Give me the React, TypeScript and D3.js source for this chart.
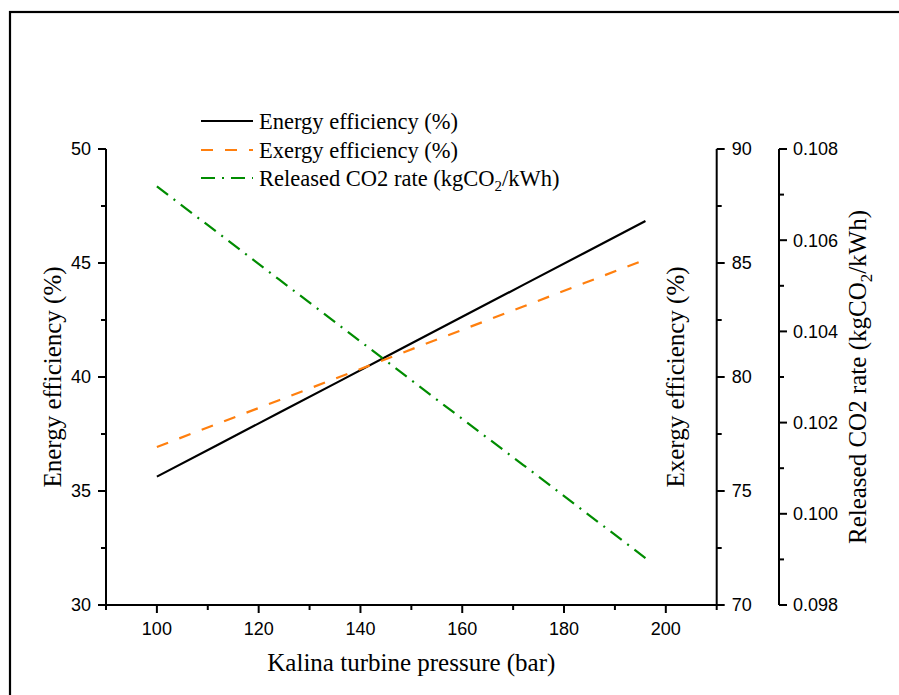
import React from "react";
import * as d3 from "d3";

const pressure = [100, 112, 124, 136, 148, 160, 172, 184, 196];
const energyEff = [35.63, 37.03, 38.43, 39.83, 41.24, 42.64, 44.04, 45.44, 46.84];
const exergyEff = [76.93, 77.96, 78.98, 80.01, 81.04, 82.07, 83.09, 84.12, 85.15];
const co2Rate = [0.10718, 0.10616, 0.10514, 0.10412, 0.1031, 0.10208, 0.10107, 0.10005, 0.09903];

const xMajor = [100, 120, 140, 160, 180, 200];
const xMinor = [90, 110, 130, 150, 170, 190, 210];
const y1Major = [30, 35, 40, 45, 50];
const y1Minor = [32.5, 37.5, 42.5, 47.5];
const y2Major = [70, 75, 80, 85, 90];
const y2Minor = [72.5, 77.5, 82.5, 87.5];
const y3Major = [0.098, 0.1, 0.102, 0.104, 0.106, 0.108];
const y3Minor = [0.099, 0.101, 0.103, 0.105, 0.107];

const legendLabels = ["Energy efficiency (%)", "Exergy efficiency (%)", "Released CO2 rate (kgCO"];

const W = 899;
const H = 695;
const L = 106;
const R = 716.7;
const T = 149;
const B = 605;
const AX3 = 779;

const SANS = "'Liberation Sans', Arial, sans-serif";
const SERIF = "'Liberation Serif', 'Times New Roman', serif";

export default function App() {
  const x = d3.scaleLinear().domain([90, 210]).range([L, R]);
  const y1 = d3.scaleLinear().domain([30, 50]).range([B, T]);
  const y2 = d3.scaleLinear().domain([70, 90]).range([B, T]);
  const y3 = d3.scaleLinear().domain([0.098, 0.108]).range([B, T]);

  const idx = pressure.map((_, i) => i);
  const lineE = d3.line<number>().x((i) => x(pressure[i])).y((i) => y1(energyEff[i]));
  const lineX = d3.line<number>().x((i) => x(pressure[i])).y((i) => y2(exergyEff[i]));
  const lineC = d3.line<number>().x((i) => x(pressure[i])).y((i) => y3(co2Rate[i]));

  const styles = [
    { stroke: "#000000", dash: undefined as string | undefined },
    { stroke: "#ff7f0e", dash: "12,12" },
    { stroke: "#008c00", dash: "14,7,2,7" },
  ];

  const sw = 2;
  const lw = 2.2;

  return (
    <svg
      width={W}
      height={H}
      style={{ position: "absolute", left: 0, top: 0, background: "#fff" }}
    >
      <rect x={0} y={0} width={W} height={H} fill="#fff" />
      <rect x={10} y={12} width={W + 20} height={H + 20} fill="none" stroke="#000" strokeWidth={2.2} />

      {/* data lines */}
      <path d={lineE(idx) || ""} fill="none" stroke={styles[0].stroke} strokeWidth={lw} />
      <path d={lineX(idx) || ""} fill="none" stroke={styles[1].stroke} strokeWidth={lw} strokeDasharray={styles[1].dash} />
      <path d={lineC(idx) || ""} fill="none" stroke={styles[2].stroke} strokeWidth={lw} strokeDasharray={styles[2].dash} />

      {/* x axis */}
      <line x1={L} x2={R} y1={B} y2={B} stroke="#000" strokeWidth={sw} />
      {xMajor.map((v) => (
        <g key={"xm" + v}>
          <line x1={x(v)} x2={x(v)} y1={B} y2={B + 8} stroke="#000" strokeWidth={sw} />
          <text x={x(v)} y={635} textAnchor="middle" fontFamily={SANS} fontSize={18}>
            {v}
          </text>
        </g>
      ))}
      {xMinor.map((v) => (
        <line key={"xn" + v} x1={x(v)} x2={x(v)} y1={B} y2={B + 5} stroke="#000" strokeWidth={sw} />
      ))}
      <text x={(L + R) / 2} y={671} textAnchor="middle" fontFamily={SERIF} fontSize={25}>
        Kalina turbine pressure (bar)
      </text>

      {/* left axis */}
      <line x1={L} x2={L} y1={T} y2={B} stroke="#000" strokeWidth={sw} />
      {y1Major.map((v) => (
        <g key={"y1m" + v}>
          <line x1={L - 8} x2={L} y1={y1(v)} y2={y1(v)} stroke="#000" strokeWidth={sw} />
          <text x={L - 15} y={y1(v)} dy="0.35em" textAnchor="end" fontFamily={SANS} fontSize={18}>
            {v}
          </text>
        </g>
      ))}
      {y1Minor.map((v) => (
        <line key={"y1n" + v} x1={L - 5} x2={L} y1={y1(v)} y2={y1(v)} stroke="#000" strokeWidth={sw} />
      ))}
      <text
        transform={`translate(61,${(T + B) / 2}) rotate(-90)`}
        textAnchor="middle"
        fontFamily={SERIF}
        fontSize={25}
      >
        Energy efficiency (%)
      </text>

      {/* right axis (exergy) */}
      <line x1={R} x2={R} y1={T} y2={B} stroke="#000" strokeWidth={sw} />
      {y2Major.map((v) => (
        <g key={"y2m" + v}>
          <line x1={R} x2={R + 8} y1={y2(v)} y2={y2(v)} stroke="#000" strokeWidth={sw} />
          <text x={R + 15} y={y2(v)} dy="0.35em" textAnchor="start" fontFamily={SANS} fontSize={18}>
            {v}
          </text>
        </g>
      ))}
      {y2Minor.map((v) => (
        <line key={"y2n" + v} x1={R} x2={R + 5} y1={y2(v)} y2={y2(v)} stroke="#000" strokeWidth={sw} />
      ))}
      <text
        transform={`translate(684,${(T + B) / 2}) rotate(-90)`}
        textAnchor="middle"
        fontFamily={SERIF}
        fontSize={25}
      >
        Exergy efficiency (%)
      </text>

      {/* third axis (CO2) */}
      <line x1={AX3} x2={AX3} y1={T} y2={B} stroke="#000" strokeWidth={sw} />
      {y3Major.map((v) => (
        <g key={"y3m" + v}>
          <line x1={AX3} x2={AX3 + 8} y1={y3(v)} y2={y3(v)} stroke="#000" strokeWidth={sw} />
          <text x={AX3 + 14} y={y3(v)} dy="0.35em" textAnchor="start" fontFamily={SANS} fontSize={18}>
            {d3.format(".3f")(v)}
          </text>
        </g>
      ))}
      {y3Minor.map((v) => (
        <line key={"y3n" + v} x1={AX3} x2={AX3 + 5} y1={y3(v)} y2={y3(v)} stroke="#000" strokeWidth={sw} />
      ))}
      <text
        transform={`translate(866,${(T + B) / 2}) rotate(-90)`}
        textAnchor="middle"
        fontFamily={SERIF}
        fontSize={25}
      >
        Released CO2 rate (kgCO<tspan dy="6" fontSize={17}>2</tspan>
        <tspan dy="-6">/kWh)</tspan>
      </text>

      {/* legend */}
      {legendLabels.map((lab, i) => {
        const ly = [121, 150, 178][i];
        return (
          <g key={"lg" + i}>
            <line
              x1={201}
              x2={253}
              y1={ly}
              y2={ly}
              stroke={styles[i].stroke}
              strokeWidth={lw}
              strokeDasharray={styles[i].dash}
            />
            <text x={259} y={ly + 7.5} fontFamily={SERIF} fontSize={22.5}>
              {lab}
              {i === 2 ? (
                <>
                  <tspan dy="5" fontSize={15}>2</tspan>
                  <tspan dy="-5">/kWh)</tspan>
                </>
              ) : null}
            </text>
          </g>
        );
      })}
    </svg>
  );
}
